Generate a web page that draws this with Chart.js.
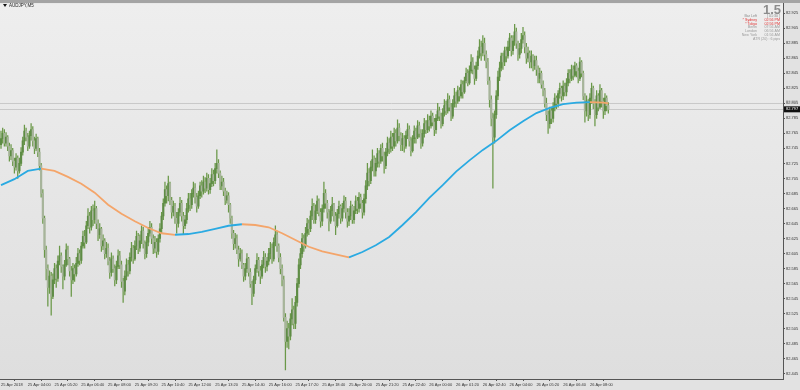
<!DOCTYPE html>
<html>
<head>
<meta charset="utf-8">
<script src="https://cdn.jsdelivr.net/npm/chart.js@4.4.1/dist/chart.umd.min.js"></script>
<style>
  html, body { margin: 0; padding: 0; background: #e4e4e4; }
  #wrap { width: 800px; height: 390px; }
</style>
</head>
<body>
<div id="wrap"><canvas id="myChart" width="800" height="390"></canvas></div>
<script>
// AUDJPY M5, 25 Apr 02:40 -> 26 Apr 08:55 (364 bars)
const symbolTitle = 'AUDJPY,M5';

const xTickLabels = [
    '25 Apr 2018', '25 Apr 04:00', '25 Apr 05:20', '25 Apr 06:40', '25 Apr 08:00', '25 Apr 09:20',
    '25 Apr 10:40', '25 Apr 12:00', '25 Apr 13:20', '25 Apr 14:40', '25 Apr 16:00', '25 Apr 17:20',
    '25 Apr 18:40', '25 Apr 20:00', '25 Apr 21:20', '25 Apr 22:40', '26 Apr 00:00', '26 Apr 01:20',
    '26 Apr 02:40', '26 Apr 04:00', '26 Apr 05:20', '26 Apr 06:40', '26 Apr 08:00'
];
const barsPerLabel = 16;

const yTicks = [
    82.445, 82.465, 82.485, 82.505, 82.525, 82.545, 82.565, 82.585, 82.605, 82.625, 82.645, 82.665,
    82.685, 82.705, 82.725, 82.745, 82.765, 82.785, 82.805, 82.825, 82.845, 82.865, 82.885, 82.905, 82.925
];

const firstOpen = 82.750;

const closes = [
    82.758, 82.765, 82.752, 82.760, 82.748, 82.735, 82.742, 82.728, 82.720, 82.732, 82.715, 82.725, 82.740, 82.755, 82.768, 82.760,
    82.748, 82.762, 82.770, 82.755, 82.745, 82.758, 82.740, 82.722, 82.685, 82.652, 82.610, 82.585, 82.560, 82.575, 82.548, 82.570,
    82.585, 82.572, 82.595, 82.602, 82.588, 82.575, 82.590, 82.610, 82.598, 82.582, 82.570, 82.585, 82.578, 82.592, 82.605, 82.596,
    82.615, 82.628, 82.620, 82.642, 82.655, 82.640, 82.662, 82.650, 82.665, 82.645, 82.630, 82.638, 82.615, 82.622, 82.605, 82.612,
    82.595, 82.580, 82.598, 82.585, 82.570, 82.588, 82.602, 82.590, 82.568, 82.555, 82.575, 82.590, 82.582, 82.600, 82.612, 82.598,
    82.615, 82.628, 82.612, 82.622, 82.635, 82.618, 82.605, 82.620, 82.632, 82.640, 82.625, 82.612, 82.620, 82.608, 82.625, 82.638,
    82.655, 82.672, 82.690, 82.682, 82.698, 82.676, 82.660, 82.668, 82.652, 82.645, 82.660, 82.672, 82.655, 82.642, 82.650, 82.665,
    82.678, 82.670, 82.685, 82.692, 82.680, 82.668, 82.682, 82.695, 82.688, 82.700, 82.692, 82.705, 82.690, 82.698, 82.710, 82.702,
    82.718, 82.725, 82.712, 82.695, 82.700, 82.688, 82.676, 82.682, 82.670, 82.652, 82.632, 82.618, 82.625, 82.610, 82.598, 82.605,
    82.590, 82.575, 82.585, 82.598, 82.580, 82.565, 82.552, 82.570, 82.585, 82.596, 82.582, 82.575, 82.590, 82.600, 82.588, 82.595,
    82.605, 82.612, 82.598, 82.620, 82.630, 82.615, 82.600, 82.585, 82.570, 82.520, 82.488, 82.505, 82.495, 82.518, 82.530, 82.512,
    82.540, 82.565, 82.590, 82.605, 82.625, 82.615, 82.632, 82.645, 82.638, 82.655, 82.668, 82.650, 82.662, 82.675, 82.660, 82.648,
    82.665, 82.685, 82.672, 82.660, 82.648, 82.662, 82.670, 82.655, 82.642, 82.658, 82.668, 82.652, 82.665, 82.675, 82.660, 82.648,
    82.655, 82.668, 82.650, 82.662, 82.675, 82.665, 82.680, 82.672, 82.660, 82.678, 82.695, 82.712, 82.702, 82.720, 82.730, 82.715,
    82.725, 82.738, 82.728, 82.745, 82.735, 82.722, 82.740, 82.752, 82.745, 82.760, 82.748, 82.765, 82.755, 82.772, 82.762, 82.750,
    82.758, 82.748, 82.762, 82.770, 82.755, 82.742, 82.758, 82.768, 82.760, 82.775, 82.765, 82.752, 82.765, 82.778, 82.770, 82.782,
    82.775, 82.788, 82.780, 82.770, 82.785, 82.795, 82.788, 82.778, 82.792, 82.802, 82.795, 82.810, 82.800, 82.788, 82.805, 82.815,
    82.808, 82.822, 82.815, 82.830, 82.820, 82.835, 82.845, 82.832, 82.848, 82.860, 82.850, 82.838, 82.855, 82.868, 82.880, 82.872,
    82.885, 82.870, 82.860, 82.835, 82.810, 82.785, 82.760, 82.790, 82.815, 82.840, 82.852, 82.868, 82.860, 82.875, 82.868, 82.880,
    82.892, 82.875, 82.888, 82.900, 82.885, 82.870, 82.878, 82.890, 82.895, 82.880, 82.865, 82.872, 82.860, 82.868, 82.855, 82.862,
    82.850, 82.838, 82.845, 82.830, 82.822, 82.805, 82.790, 82.778, 82.795, 82.785, 82.800, 82.812, 82.805, 82.818, 82.825, 82.815,
    82.828, 82.820, 82.832, 82.845, 82.838, 82.850, 82.842, 82.855, 82.848, 82.838, 82.860, 82.845, 82.815, 82.795, 82.808, 82.790,
    82.812, 82.825, 82.805, 82.790, 82.815, 82.800, 82.822, 82.808, 82.795, 82.812, 82.802, 82.797
];

const highs = [
    82.768, 82.772, 82.770, 82.766, 82.762, 82.752, 82.750, 82.745, 82.732, 82.738, 82.735, 82.732, 82.746, 82.760, 82.776, 82.772,
    82.765, 82.768, 82.778, 82.774, 82.760, 82.764, 82.760, 82.745, 82.725, 82.690, 82.655, 82.615, 82.590, 82.582, 82.580, 82.578,
    82.592, 82.590, 82.602, 82.615, 82.606, 82.590, 82.596, 82.618, 82.615, 82.600, 82.588, 82.592, 82.590, 82.600, 82.612, 82.610,
    82.620, 82.635, 82.636, 82.648, 82.665, 82.660, 82.668, 82.670, 82.675, 82.668, 82.650, 82.645, 82.640, 82.630, 82.625, 82.620,
    82.618, 82.600, 82.606, 82.602, 82.590, 82.595, 82.610, 82.608, 82.595, 82.572, 82.582, 82.598, 82.596, 82.606, 82.620, 82.616,
    82.622, 82.635, 82.632, 82.630, 82.642, 82.640, 82.622, 82.628, 82.640, 82.648, 82.645, 82.630, 82.628, 82.625, 82.630, 82.645,
    82.660, 82.678, 82.700, 82.695, 82.708, 82.700, 82.680, 82.675, 82.672, 82.660, 82.665, 82.680, 82.676, 82.660, 82.656, 82.672,
    82.685, 82.685, 82.690, 82.700, 82.698, 82.685, 82.688, 82.700, 82.702, 82.708, 82.706, 82.712, 82.710, 82.705, 82.718, 82.716,
    82.725, 82.743, 82.730, 82.715, 82.708, 82.705, 82.692, 82.688, 82.686, 82.672, 82.655, 82.636, 82.632, 82.630, 82.615, 82.612,
    82.610, 82.592, 82.592, 82.605, 82.600, 82.585, 82.568, 82.575, 82.590, 82.605, 82.600, 82.588, 82.596, 82.608, 82.605, 82.600,
    82.612, 82.620, 82.618, 82.626, 82.642, 82.635, 82.618, 82.605, 82.590, 82.575, 82.525, 82.515, 82.512, 82.525, 82.545, 82.535,
    82.548, 82.572, 82.598, 82.612, 82.632, 82.630, 82.640, 82.652, 82.650, 82.662, 82.678, 82.672, 82.670, 82.682, 82.678, 82.665,
    82.670, 82.700, 82.690, 82.676, 82.664, 82.668, 82.680, 82.672, 82.660, 82.664, 82.675, 82.670, 82.672, 82.682, 82.680, 82.665,
    82.665, 82.675, 82.670, 82.668, 82.682, 82.680, 82.686, 82.684, 82.676, 82.684, 82.702, 82.725, 82.718, 82.728, 82.743, 82.735,
    82.732, 82.745, 82.742, 82.750, 82.752, 82.740, 82.745, 82.760, 82.758, 82.768, 82.765, 82.772, 82.770, 82.783, 82.778, 82.766,
    82.765, 82.762, 82.768, 82.778, 82.775, 82.760, 82.762, 82.775, 82.772, 82.782, 82.780, 82.770, 82.770, 82.785, 82.782, 82.790,
    82.788, 82.795, 82.792, 82.785, 82.790, 82.805, 82.800, 82.792, 82.798, 82.810, 82.808, 82.818, 82.815, 82.805, 82.810, 82.825,
    82.820, 82.828, 82.826, 82.836, 82.835, 82.840, 82.852, 82.850, 82.855, 82.870, 82.866, 82.855, 82.860, 82.875, 82.890, 82.888,
    82.895, 82.892, 82.875, 82.865, 82.840, 82.815, 82.792, 82.795, 82.822, 82.848, 82.860, 82.872, 82.872, 82.880, 82.880, 82.888,
    82.898, 82.895, 82.895, 82.910, 82.905, 82.888, 82.885, 82.898, 82.906, 82.900, 82.885, 82.880, 82.875, 82.875, 82.870, 82.868,
    82.868, 82.855, 82.852, 82.848, 82.835, 82.825, 82.812, 82.795, 82.800, 82.800, 82.806, 82.818, 82.815, 82.822, 82.832, 82.828,
    82.835, 82.832, 82.838, 82.850, 82.850, 82.856, 82.855, 82.860, 82.858, 82.852, 82.866, 82.862, 82.848, 82.818, 82.815, 82.810,
    82.818, 82.832, 82.828, 82.810, 82.822, 82.818, 82.830, 82.825, 82.812, 82.818, 82.815, 82.806
];

const lows = [
    82.745, 82.752, 82.748, 82.748, 82.742, 82.728, 82.730, 82.722, 82.712, 82.716, 82.705, 82.712, 82.722, 82.736, 82.750, 82.755,
    82.742, 82.745, 82.756, 82.748, 82.738, 82.742, 82.734, 82.716, 82.680, 82.645, 82.600, 82.570, 82.535, 82.552, 82.523, 82.545,
    82.565, 82.560, 82.568, 82.590, 82.580, 82.558, 82.570, 82.588, 82.590, 82.575, 82.548, 82.565, 82.568, 82.575, 82.588, 82.590,
    82.592, 82.612, 82.612, 82.618, 82.638, 82.632, 82.636, 82.642, 82.645, 82.638, 82.622, 82.625, 82.608, 82.610, 82.598, 82.600,
    82.590, 82.572, 82.575, 82.580, 82.562, 82.565, 82.585, 82.585, 82.560, 82.540, 82.550, 82.570, 82.575, 82.578, 82.595, 82.592,
    82.596, 82.610, 82.605, 82.608, 82.618, 82.612, 82.598, 82.600, 82.615, 82.628, 82.618, 82.605, 82.606, 82.600, 82.604, 82.620,
    82.632, 82.650, 82.668, 82.672, 82.675, 82.670, 82.652, 82.655, 82.645, 82.632, 82.640, 82.655, 82.648, 82.630, 82.638, 82.645,
    82.660, 82.662, 82.665, 82.680, 82.672, 82.660, 82.665, 82.678, 82.680, 82.684, 82.686, 82.688, 82.684, 82.685, 82.694, 82.695,
    82.698, 82.712, 82.706, 82.690, 82.690, 82.682, 82.670, 82.672, 82.660, 82.645, 82.625, 82.610, 82.612, 82.605, 82.588, 82.595,
    82.585, 82.568, 82.570, 82.580, 82.575, 82.560, 82.537, 82.548, 82.565, 82.580, 82.575, 82.565, 82.572, 82.586, 82.580, 82.582,
    82.590, 82.598, 82.592, 82.595, 82.615, 82.608, 82.594, 82.578, 82.562, 82.515, 82.450, 82.480, 82.478, 82.490, 82.510, 82.505,
    82.505, 82.535, 82.560, 82.585, 82.600, 82.608, 82.612, 82.628, 82.630, 82.634, 82.650, 82.645, 82.645, 82.658, 82.655, 82.640,
    82.642, 82.660, 82.665, 82.652, 82.635, 82.645, 82.655, 82.648, 82.630, 82.640, 82.652, 82.645, 82.648, 82.660, 82.652, 82.640,
    82.642, 82.650, 82.645, 82.645, 82.658, 82.658, 82.660, 82.665, 82.652, 82.656, 82.672, 82.690, 82.695, 82.698, 82.715, 82.708,
    82.708, 82.720, 82.720, 82.725, 82.728, 82.712, 82.718, 82.735, 82.738, 82.740, 82.742, 82.745, 82.748, 82.752, 82.755, 82.742,
    82.742, 82.740, 82.745, 82.758, 82.748, 82.735, 82.740, 82.752, 82.752, 82.758, 82.760, 82.745, 82.748, 82.760, 82.765, 82.766,
    82.768, 82.772, 82.775, 82.762, 82.765, 82.782, 82.782, 82.772, 82.775, 82.788, 82.790, 82.792, 82.795, 82.782, 82.785, 82.800,
    82.800, 82.805, 82.808, 82.812, 82.812, 82.818, 82.832, 82.828, 82.830, 82.845, 82.844, 82.830, 82.835, 82.850, 82.865, 82.862,
    82.868, 82.862, 82.852, 82.830, 82.800, 82.775, 82.692, 82.752, 82.785, 82.810, 82.835, 82.848, 82.850, 82.855, 82.860, 82.865,
    82.875, 82.868, 82.870, 82.882, 82.878, 82.862, 82.865, 82.872, 82.885, 82.872, 82.858, 82.860, 82.852, 82.852, 82.848, 82.850,
    82.842, 82.832, 82.832, 82.825, 82.815, 82.800, 82.782, 82.765, 82.772, 82.778, 82.780, 82.795, 82.798, 82.800, 82.812, 82.808,
    82.810, 82.815, 82.815, 82.828, 82.832, 82.835, 82.836, 82.840, 82.840, 82.832, 82.835, 82.840, 82.810, 82.780, 82.788, 82.782,
    82.785, 82.805, 82.798, 82.775, 82.785, 82.795, 82.798, 82.800, 82.785, 82.790, 82.795, 82.792
];

// moving average, read every 8 bars off the picture
const maBars = [
    0, 8, 16, 24, 32, 40, 48, 56, 64, 72, 80, 88, 96, 104, 112, 120, 128, 136, 144, 152, 160, 168, 176,
    184, 192, 200, 208, 216, 224, 232, 240, 248, 256, 264, 272, 280, 288, 296, 304, 312, 320, 328, 336,
    344, 352, 360, 363
];
const maValues = [
    82.696, 82.704, 82.715, 82.718, 82.715, 82.707, 82.698, 82.686, 82.670, 82.658, 82.648, 82.639,
    82.632, 82.630, 82.631, 82.634, 82.638, 82.642, 82.644, 82.643, 82.640, 82.632, 82.623, 82.614,
    82.608, 82.604, 82.600, 82.607, 82.616, 82.627, 82.643, 82.660, 82.679, 82.696, 82.714, 82.729,
    82.743, 82.755, 82.769, 82.781, 82.792, 82.799, 82.804, 82.8060, 82.8065, 82.806, 82.805
];

const bidPrice = 82.797;
const askPrice = 82.805;

const infoBig = '1.5';
const infoRows = [
    ['Bar Left', '[ 01:30 ]', '#8a8a8a'],
    ['* Sydney', '02:56 PM', '#e03030'],
    ['* Tokyo', '02:56 PM', '#e03030'],
    ['Berlin', '07:56 AM', '#9a9a9a'],
    ['London', '06:56 AM', '#9a9a9a'],
    ['New York', '01:56 AM', '#9a9a9a'],
    ['', 'ATR (20) : 6 pips', '#9a9a9a']
];

const bullColor = '#5e8c45';
const bearColor = '#a7b49b';
const wickColor = '#6a9848';
const maUp = '#2aaae2';
const maDown = '#f4a56a';
const fontFam = '"Liberation Sans", "DejaVu Sans", sans-serif';

const opens = closes.map((c, i) => i === 0 ? firstOpen : closes[i - 1]);
const wickData = closes.map((c, i) => ({
    x: i,
    y: [Math.min(lows[i], opens[i], c), Math.max(highs[i], opens[i], c)]
}));
const bodyData = closes.map((c, i) => ({ x: i, y: [opens[i], c] }));
const bodyColors = closes.map((c, i) => c >= opens[i] ? bullColor : bearColor);
const maData = maBars.map((b, k) => ({ x: b, y: maValues[k] }));

// fondo y barra superior
const backgroundPlugin = {
    id: 'mtBackground',
    beforeDraw(chart) {
        const { ctx, chartArea: a, width, height } = chart;
        ctx.save();
        ctx.fillStyle = '#e2e2e2';
        ctx.fillRect(0, 0, width, height);
        const g = ctx.createLinearGradient(0, a.top, 0, a.bottom);
        g.addColorStop(0, '#eeeeee');
        g.addColorStop(1, '#dedede');
        ctx.fillStyle = g;
        ctx.fillRect(a.left, a.top, a.right - a.left, a.bottom - a.top);
        ctx.fillStyle = '#a4a4a4';
        ctx.fillRect(0, 0, width, 3);
        ctx.restore();
    },
    beforeDatasetsDraw(chart) {
        const { ctx, chartArea: a, scales: { y } } = chart;
        ctx.save();
        ctx.lineWidth = 1;
        ctx.strokeStyle = '#c9c9c9';
        [askPrice, bidPrice].forEach(p => {
            const py = Math.round(y.getPixelForValue(p)) + 0.5;
            ctx.beginPath();
            ctx.moveTo(a.left, py);
            ctx.lineTo(a.right, py);
            ctx.stroke();
        });
        ctx.restore();
    },
    afterDraw(chart) {
        const { ctx, chartArea: a, scales: { y } } = chart;
        ctx.save();
        // etiqueta del precio actual
        const py = y.getPixelForValue(bidPrice);
        ctx.fillStyle = '#111';
        ctx.fillRect(a.right + 1, py - 3, 16, 6);
        ctx.fillStyle = '#fff';
        ctx.font = '4px ' + fontFam;
        ctx.textBaseline = 'middle';
        ctx.textAlign = 'left';
        ctx.fillText(bidPrice.toFixed(3), a.right + 3, py);
        ctx.fillStyle = '#999';
        ctx.fillText(askPrice.toFixed(3), a.right + 3, y.getPixelForValue(askPrice) - 1);

        // titulo
        ctx.fillStyle = '#111';
        ctx.beginPath();
        ctx.moveTo(3, 4); ctx.lineTo(7, 4); ctx.lineTo(5, 7); ctx.closePath();
        ctx.fill();
        ctx.font = '4.5px ' + fontFam;
        ctx.fillStyle = '#222';
        ctx.fillText(symbolTitle, 9, 6);

        // panel de informacion
        ctx.textAlign = 'right';
        ctx.fillStyle = '#8c8c8c';
        ctx.font = 'bold 13px ' + fontFam;
        ctx.fillText(infoBig, 781, 10);
        ctx.font = '3.6px ' + fontFam;
        infoRows.forEach((r, k) => {
            const ty = 16 + k * 3.8;
            ctx.fillStyle = r[2];
            if (r[0]) ctx.fillText(r[0], 757, ty);
            ctx.fillText(r[1], 780, ty);
        });
        ctx.restore();
    }
};

const ctx = document.getElementById('myChart').getContext('2d');

new Chart(ctx, {
    type: 'bar',
    data: {
        datasets: [
            {
                type: 'line',
                data: maData,
                borderColor: maUp,
                borderWidth: 1.8,
                pointRadius: 0,
                tension: 0,
                order: 1,
                segment: {
                    borderColor: c => c.p1.parsed.y >= c.p0.parsed.y ? maUp : maDown
                }
            },
            {
                data: bodyData,
                backgroundColor: bodyColors,
                barThickness: 1.5,
                minBarLength: 1,
                grouped: false,
                order: 2
            },
            {
                data: wickData,
                backgroundColor: wickColor,
                barThickness: 0.6,
                grouped: false,
                order: 3
            }
        ]
    },
    options: {
        responsive: false,
        animation: false,
        layout: { padding: { top: 3, left: 0, right: 0, bottom: 0 } },
        plugins: {
            legend: { display: false },
            tooltip: { enabled: false }
        },
        scales: {
            x: {
                type: 'linear',
                min: -0.6,
                max: 467.4,
                offset: false,
                grid: { drawOnChartArea: false, drawTicks: true, tickLength: 2, color: '#555' },
                border: { display: true, color: '#555' },
                afterBuildTicks: s => { s.ticks = xTickLabels.map((t, k) => ({ value: k * barsPerLabel })); },
                afterFit: s => { s.height = 11; },
                ticks: {
                    font: { size: 4, family: fontFam },
                    color: '#333',
                    align: 'start',
                    padding: 1,
                    maxRotation: 0,
                    autoSkip: false,
                    callback: v => xTickLabels[Math.round(v / barsPerLabel)] || ''
                }
            },
            y: {
                position: 'right',
                min: 82.438,
                max: 82.938,
                grid: { drawOnChartArea: false, drawTicks: true, tickLength: 2, color: '#555' },
                border: { display: true, color: '#555' },
                afterBuildTicks: s => { s.ticks = yTicks.map(v => ({ value: v })); },
                afterFit: s => { s.width = 17; },
                ticks: {
                    font: { size: 4, family: fontFam },
                    color: '#333',
                    padding: 1,
                    autoSkip: false,
                    callback: v => Number(v).toFixed(3)
                }
            }
        }
    },
    plugins: [backgroundPlugin]
});
</script>
</body>
</html>
